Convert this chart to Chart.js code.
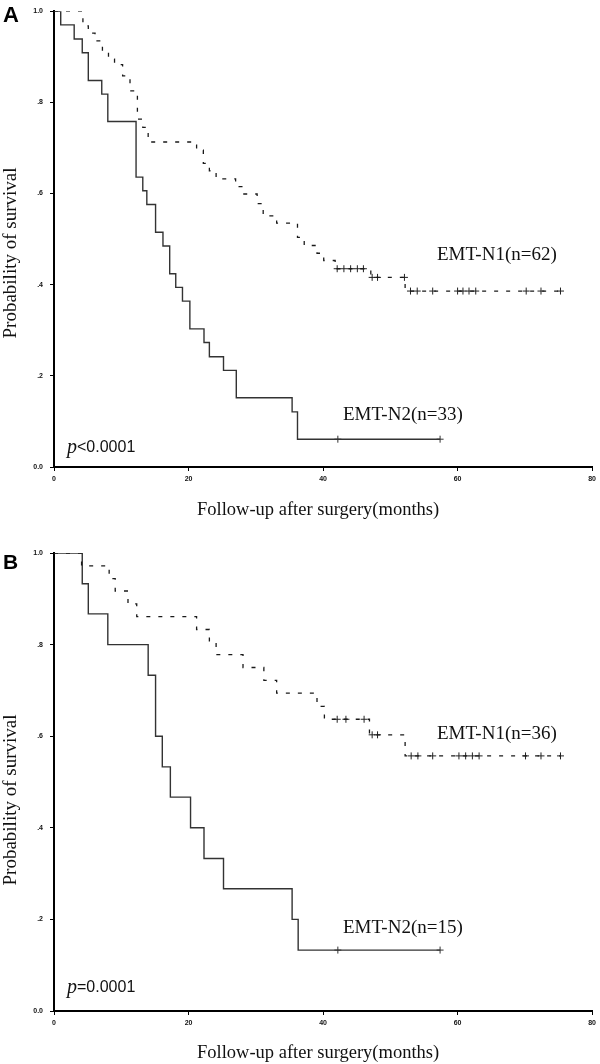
<!DOCTYPE html>
<html>
<head>
<meta charset="utf-8">
<script src="https://cdn.jsdelivr.net/npm/chart.js@4.4.0/dist/chart.umd.min.js"></script>
<style>
  body { margin: 0; background: #fff; }
  #page { position: relative; width: 600px; height: 1064px; overflow: hidden; }
  canvas { position: absolute; left: 0; }
  .lbl { position: absolute; white-space: nowrap; line-height: 1; color: #111; }
</style>
</head>
<body>
<div id="page">
  <canvas id="chartA" width="600" height="532" style="top:0"></canvas>
  <canvas id="chartB" width="600" height="532" style="top:532px"></canvas>
</div>
<script>
// tick labels
const xTickLabels = ['0', '20', '40', '60', '80'];
const yTickLabels = ['0.0', '.2', '.4', '.6', '.8', '1.0'];

// Panel A - EMT-N1 (n=62), dashed
const aN1Months = [0, 4.3, 5.1, 6.1, 7.2, 8.1, 9.0, 10.2, 11.3, 12.4, 13.2, 14.0, 21.2, 22.2, 23.1, 24.1, 27.0, 28.1, 30.2, 31.1, 33.1, 36.2, 37.2, 39.1, 40.1, 41.8, 47.1, 52.2, 75.3];
const aN1Surv   = [1, 0.968, 0.952, 0.935, 0.909, 0.895, 0.883, 0.858, 0.825, 0.763, 0.745, 0.713, 0.695, 0.666, 0.650, 0.632, 0.615, 0.599, 0.578, 0.551, 0.535, 0.504, 0.486, 0.469, 0.453, 0.435, 0.416, 0.386, 0.386];
const aN1Censored = [42.1, 43.1, 44.1, 45.1, 46.0, 47.3, 48.1, 52.1, 53.0, 54.0, 56.3, 60.0, 60.8, 61.7, 62.7, 70.2, 72.4, 75.3];

// Panel A - EMT-N2 (n=33), solid
const aN2Months = [0, 1.0, 3.0, 4.2, 5.1, 7.1, 8.0, 12.2, 13.2, 13.8, 15.1, 16.2, 17.2, 18.1, 19.1, 20.2, 22.3, 23.1, 25.2, 27.1, 35.4, 36.2, 57.4];
const aN2Surv   = [1, 0.970, 0.939, 0.909, 0.848, 0.818, 0.758, 0.636, 0.606, 0.576, 0.515, 0.485, 0.424, 0.394, 0.364, 0.303, 0.273, 0.242, 0.212, 0.152, 0.121, 0.061, 0.061];
const aN2Censored = [42.2, 57.4];

// Panel B - EMT-N1 (n=36), dashed
const bN1Months = [0, 4.1, 8.2, 9.1, 11.0, 12.3, 21.2, 23.1, 24.1, 28.1, 31.2, 33.1, 39.1, 40.2, 46.9, 52.2, 75.3];
const bN1Surv   = [1, 0.972, 0.944, 0.917, 0.889, 0.861, 0.833, 0.805, 0.778, 0.750, 0.722, 0.694, 0.665, 0.637, 0.603, 0.557, 0.557];
const bN1Censored = [42.1, 43.4, 46.1, 47.3, 48.1, 53.1, 54.1, 56.3, 60.2, 61.2, 62.2, 63.2, 70.1, 72.4, 75.3];

// Panel B - EMT-N2 (n=15), solid
const bN2Months = [0, 4.2, 5.1, 8.0, 14.0, 15.1, 16.1, 17.3, 20.3, 22.3, 25.2, 35.4, 36.3, 57.4];
const bN2Surv   = [1, 0.933, 0.867, 0.800, 0.733, 0.600, 0.533, 0.467, 0.400, 0.333, 0.267, 0.200, 0.133, 0.133];
const bN2Censored = [42.2, 57.4];

// value of the step curve at time t
function survAt(months, surv, t) {
  let s = surv[0];
  for (let i = 0; i < months.length; i++) {
    if (months[i] <= t) s = surv[i];
  }
  return s;
}

function curve(months, surv) {
  return months.map((m, i) => ({ x: m, y: surv[i] }));
}

function marks(months, surv, censored) {
  return censored.map(t => ({ x: t, y: survAt(months, surv, t) }));
}

function makeChart(id, n1, n2, padTop, xAxisHeight) {
  const ctx = document.getElementById(id).getContext('2d');
  const tickFont = { family: 'Liberation Sans', size: 7, weight: 'bold' };
  return new Chart(ctx, {
    type: 'line',
    data: {
      datasets: [
        {
          data: curve(n1.months, n1.surv),
          borderColor: '#1a1a1a',
          borderWidth: 1.3,
          borderDash: [4, 8],
          stepped: true,
          pointRadius: 0,
          fill: false
        },
        {
          data: curve(n2.months, n2.surv),
          borderColor: '#333',
          borderWidth: 1.4,
          stepped: true,
          pointRadius: 0,
          fill: false
        },
        {
          data: marks(n1.months, n1.surv, n1.censored),
          showLine: false,
          pointStyle: 'cross',
          pointRadius: 3.5,
          pointBorderWidth: 1,
          pointBorderColor: '#222'
        },
        {
          data: marks(n2.months, n2.surv, n2.censored),
          showLine: false,
          pointStyle: 'cross',
          pointRadius: 3.5,
          pointBorderWidth: 1,
          pointBorderColor: '#333'
        }
      ]
    },
    options: {
      responsive: false,
      animation: false,
      layout: { padding: { top: padTop, right: 7, left: 0, bottom: 0 } },
      plugins: {
        legend: { display: false },
        tooltip: { enabled: false }
      },
      scales: {
        x: {
          type: 'linear',
          min: 0,
          max: 80,
          afterFit: (scale) => { scale.height = xAxisHeight; },
          ticks: {
            stepSize: 20,
            padding: 4,
            color: '#111',
            font: tickFont,
            maxRotation: 0,
            callback: (v) => xTickLabels[v / 20]
          },
          grid: { display: true, drawOnChartArea: false, drawTicks: true, tickLength: 4, color: '#000' },
          border: { display: true, color: '#000', width: 2 }
        },
        y: {
          min: 0,
          max: 1,
          afterFit: (scale) => { scale.width = 54; },
          ticks: {
            stepSize: 0.2,
            padding: 7,
            color: '#111',
            font: tickFont,
            callback: (v) => yTickLabels[Math.round(v * 5)]
          },
          grid: { display: true, drawOnChartArea: false, drawTicks: true, tickLength: 4, color: '#000' },
          border: { display: true, color: '#000', width: 2 }
        }
      }
    }
  });
}

makeChart('chartA',
  { months: aN1Months, surv: aN1Surv, censored: aN1Censored },
  { months: aN2Months, surv: aN2Surv, censored: aN2Censored },
  10, 65);

makeChart('chartB',
  { months: bN1Months, surv: bN1Surv, censored: bN1Censored },
  { months: bN2Months, surv: bN2Surv, censored: bN2Censored },
  21, 53);

// text labels
const page = document.getElementById('page');
const SERIF = "'Liberation Serif', 'Times New Roman', serif";
const SANS = "'Liberation Sans', Arial, sans-serif";

function addText(text, left, baseline, size, family, extra) {
  const el = document.createElement('div');
  el.className = 'lbl';
  el.textContent = text;
  el.style.fontFamily = family;
  el.style.fontSize = size + 'px';
  const asc = family === SANS ? 0.8465 : 0.8375;
  el.style.left = left + 'px';
  el.style.top = (baseline - asc * size) + 'px';
  if (extra) Object.assign(el.style, extra);
  page.appendChild(el);
  return el;
}

function addYTitle(text, cx, cy) {
  const el = document.createElement('div');
  el.className = 'lbl';
  el.textContent = text;
  el.style.fontFamily = SERIF;
  el.style.fontSize = '19px';
  el.style.left = cx + 'px';
  el.style.top = cy + 'px';
  el.style.transform = 'translate(-50%, -50%) rotate(-90deg)';
  page.appendChild(el);
}

// panel A
addText('A', 3, 22.7, 22, SANS, { fontWeight: 'bold', color: '#000' });
addYTitle('Probability of survival', 8.5, 252.5);
addText('Follow-up after surgery(months)', 197, 515, 18.5, SERIF);
addText('EMT-N1(n=62)', 437, 259.5, 19, SERIF);
addText('EMT-N2(n=33)', 343, 420, 19, SERIF);
addText('p', 67, 453, 20, SERIF, { fontStyle: 'italic' });
addText('<0.0001', 77, 453, 16, SANS);

// panel B
addText('B', 3, 568.3, 21, SANS, { fontWeight: 'bold', color: '#000' });
addYTitle('Probability of survival', 8.5, 800);
addText('Follow-up after surgery(months)', 197, 1058, 18.5, SERIF);
addText('EMT-N1(n=36)', 437, 739, 19, SERIF);
addText('EMT-N2(n=15)', 343, 932.5, 19, SERIF);
addText('p', 67, 993, 20, SERIF, { fontStyle: 'italic' });
addText('=0.0001', 77, 993, 16, SANS);
</script>
</body>
</html>
